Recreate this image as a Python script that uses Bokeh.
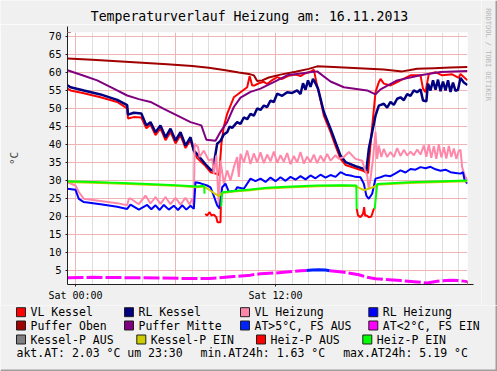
import math
from bokeh.plotting import figure
from bokeh.layouts import column, row
from bokeh.models import FixedTicker, Arrow, NormalHead, Range1d
from bokeh.core.properties import value
from bokeh.embed import file_html
from bokeh.resources import INLINE

NaN = float("nan")
FONT = "DejaVu Sans Mono"

# ---------------- texts / ticks ----------------
TITLE = "Temperaturverlauf Heizung am: 16.11.2013"
Y_LABEL = "°C"
WATERMARK = "RRDTOOL / TOBI OETIKER"
X_TICK_HOURS = [0, 12]
X_TICK_LABELS = ["Sat 00:00", "Sat 12:00"]
X_MAJOR_GRID = [0, 6, 12, 18]
X_MINOR_GRID = list(range(0, 24))
Y_TICKS = [5, 10, 15, 20, 25, 30, 35, 40, 45, 50, 55, 60, 65, 70]

# ---------------- data (hours of 16.11.2013, degC) ----------------
vk_t = [-0.48, -0.3, 0.5, 1.5, 2.5, 3.1, 3.15, 3.5, 3.95, 4.25, 4.5, 4.8, 5.1, 5.4, 5.7, 6.0, 6.3, 6.6, 6.9, 7.15,
        7.3, 7.8, 8.1, 8.5, 8.62, 8.75, 8.9, 9.1, 9.5, 9.9, 10.3, 10.45, 10.6, 10.75, 11.0, 11.3, 11.5, 11.8, 12.1,
        12.4, 12.8, 13.2, 13.5, 13.8, 14.1, 14.3, 14.45, 14.6, 14.9, 15.3, 15.6, 15.9, 16.2, 16.8, 17.3, 17.45,
        17.55, 17.75, 18.0, 18.2, 18.3, 18.5, 18.9, 19.3, 19.5, 20.1, 20.7, 20.85, 21.0, 21.2, 21.6, 22.0, 22.6,
        23.0, 23.1, 23.52]
vk_v = [55.5, 55.0, 54.2, 53.1, 51.8, 50.0, 47.2, 47.6, 47.5, 44.5, 45.5, 42.6, 44.5, 41.2, 43.5, 40.3, 42.6, 39.0,
        41.2, 37.5, 36.2, 34.0, 32.3, 31.8, 31.5, 40.0, 45.0, 48.5, 53.1, 54.5, 55.9, 59.0, 56.4, 56.4, 57.0, 57.4,
        56.8, 57.9, 58.7, 58.2, 59.1, 59.4, 59.0, 59.8, 60.2, 60.8, 57.3, 54.5, 48.0, 43.5, 39.6, 36.0, 34.3, 33.4,
        32.6, 32.2, 32.0, 42.5, 54.5, 57.3, 58.2, 56.9, 56.4, 57.3, 57.8, 59.2, 59.2, 55.5, 54.5, 59.6, 60.1, 59.2,
        59.5, 58.5, 59.6, 57.8]

rk_t = [-0.48, -0.3, 0.5, 1.5, 2.5, 3.1, 3.15, 3.5, 3.95, 4.25, 4.5, 4.8, 5.1, 5.4, 5.7, 6.0, 6.3, 6.6, 6.9, 7.1,
        7.3, 7.8, 8.1, 8.25, 8.35, 8.5, 8.7, 8.9, 9.1, 9.25, 9.4, 9.7, 9.9, 10.1, 10.3, 10.5, 10.7, 10.9, 11.1, 11.3,
        11.5, 11.7, 11.9, 12.1, 12.4, 12.7, 13.0, 13.3, 13.5, 13.65, 13.8, 13.95, 14.1, 14.25, 14.4, 14.55, 14.9,
        15.3, 15.6, 15.9, 16.2, 16.8, 17.3, 17.45, 17.6, 17.8, 18.0, 18.2, 18.5, 18.7, 18.9, 19.1, 19.3, 19.5, 19.7,
        19.9, 20.1, 20.3, 20.5, 20.7, 20.85, 21.05, 21.15, 21.3, 21.45, 21.6, 21.75, 21.9, 22.05, 22.2, 22.35, 22.5,
        22.65, 22.8, 22.95, 23.1, 23.3, 23.52]
rk_v = [56.4, 55.9, 55.0, 53.9, 52.4, 50.9, 48.3, 48.8, 48.6, 45.3, 46.2, 43.4, 45.3, 42.0, 44.4, 41.1, 43.4, 39.7,
        42.0, 38.3, 37.3, 34.5, 33.0, 32.7, 36.0, 40.2, 41.0, 42.8, 43.4, 45.0, 44.6, 46.2, 45.7, 47.5, 47.0, 48.5,
        48.0, 50.0, 49.6, 50.8, 50.4, 52.2, 51.8, 54.1, 53.5, 54.5, 54.3, 55.0, 54.0, 57.0, 55.2, 57.8, 56.0, 58.2,
        57.0, 55.5, 49.0, 44.4, 40.6, 36.9, 35.1, 34.0, 33.2, 32.7, 38.8, 43.4, 48.0, 50.8, 51.3, 50.2, 51.8, 51.0,
        52.7, 53.1, 52.3, 54.0, 53.5, 55.0, 54.5, 55.3, 52.2, 52.0, 56.9, 55.0, 57.8, 55.2, 58.0, 54.8, 57.5, 55.0,
        57.8, 54.6, 57.2, 54.9, 55.2, 58.5, 57.2, 56.5]

vh_t = [-0.48, 0.0, 0.2, 0.5, 1.5, 2.5, 3.1, 3.2, 3.3, 3.8, 4.2, 4.5, 4.8, 5.1, 5.4, 5.7, 6.0, 6.3, 6.6, 6.85, 7.0,
        7.1, 7.15, 7.35, 7.45, 7.7, 8.0, 8.2, 8.3, 8.45, 8.6, 8.7, 8.9, 9.1, 9.3, 9.5, 9.7, 9.8, 9.9, 10.1, 10.3,
        10.5, 10.7, 10.9, 11.1, 11.3, 11.5, 11.7, 11.9, 12.1, 12.3, 12.5, 12.7, 12.9, 13.1, 13.3, 13.5, 13.7, 13.9,
        14.1, 14.3, 14.5, 14.7, 14.9, 15.1, 15.3, 15.6, 15.8, 16.1, 16.4, 16.8, 17.2, 17.35, 17.5, 17.6, 17.7,
        17.85, 18.0, 18.1, 18.2, 18.35, 18.5, 18.7, 18.9, 19.1, 19.3, 19.5, 19.7, 19.9, 20.1, 20.3, 20.5, 20.7,
        20.9, 21.05, 21.2, 21.35, 21.5, 21.65, 21.8, 21.95, 22.1, 22.25, 22.4, 22.55, 22.7, 22.85, 23.0, 23.1,
        23.2, 23.35, 23.52]
vh_v = [29.5, 28.6, 26.8, 24.9, 24.3, 23.7, 23.1, 24.9, 25.0, 23.4, 25.8, 23.6, 25.4, 23.5, 25.4, 23.4, 25.2, 23.3,
        25.2, 23.3, 25.0, 23.0, 40.2, 39.3, 36.5, 38.3, 35.5, 36.0, 31.8, 37.0, 22.6, 35.5, 29.1, 32.8, 30.0, 33.7,
        36.5, 31.0, 37.4, 35.0, 38.3, 34.6, 37.5, 35.0, 37.8, 34.8, 37.2, 35.3, 38.0, 34.9, 37.0, 35.2, 37.6, 34.5,
        36.8, 35.0, 37.9, 34.7, 36.6, 35.1, 37.2, 34.8, 36.9, 35.3, 37.4, 35.5, 37.0, 36.0, 36.5, 37.9, 36.0, 35.5,
        33.2, 31.4, 27.5, 30.5, 36.0, 43.5, 36.0, 39.7, 36.5, 38.8, 36.5, 37.9, 36.5, 39.0, 36.8, 38.5, 36.9, 38.0,
        37.0, 38.6, 37.2, 39.7, 36.6, 40.0, 36.3, 39.5, 36.0, 40.1, 36.4, 39.2, 36.1, 39.6, 36.5, 38.9, 36.0, 38.3,
        38.5, 33.7, 31.4, 30.0]

rh_t = [-0.48, 0.0, 0.2, 0.5, 1.5, 2.5, 3.1, 3.3, 3.8, 4.3, 4.55, 4.8, 5.05, 5.3, 5.6, 5.9, 6.15, 6.4, 6.65, 6.9,
        7.1, 7.2, 7.5, 7.9, 8.1, 8.25, 8.5, 8.65, 8.8, 9.0, 9.2, 9.6, 9.7, 10.1, 10.5, 10.8, 11.1, 11.4, 11.7, 12.0,
        12.3, 12.6, 12.9, 13.2, 13.5, 13.8, 14.1, 14.4, 14.7, 15.0, 15.3, 15.6, 15.9, 16.2, 16.5, 16.8, 17.1, 17.3,
        17.45, 17.6, 17.8, 18.0, 18.3, 18.6, 18.9, 19.2, 19.5, 19.8, 20.1, 20.4, 20.7, 21.0, 21.3, 21.6, 21.9, 22.2,
        22.5, 22.8, 23.1, 23.25, 23.35, 23.52]
rh_v = [27.7, 27.4, 24.9, 24.0, 23.4, 22.7, 22.1, 23.3, 21.9, 23.2, 22.0, 23.1, 21.8, 23.2, 21.9, 23.0, 21.8, 23.1,
        21.9, 23.0, 22.1, 29.5, 29.2, 28.6, 28.1, 26.3, 23.1, 22.2, 28.1, 29.1, 26.8, 27.2, 28.1, 27.7, 30.5, 29.8,
        30.5, 29.6, 30.8, 29.8, 30.9, 29.9, 31.0, 30.2, 31.2, 30.3, 31.4, 30.6, 31.6, 30.8, 31.5, 31.0, 32.3, 31.6,
        31.4, 31.0, 30.9, 29.1, 25.8, 24.9, 26.3, 30.5, 30.9, 31.4, 31.2, 32.0, 32.8, 32.2, 33.2, 33.0, 33.7, 33.4,
        33.8, 33.1, 32.7, 33.0, 32.3, 32.1, 31.9, 32.3, 30.0, 29.1]

po_t = [-0.48, 1.0, 2.5, 4.0, 5.5, 7.0, 8.0, 9.0, 9.8, 10.4, 10.7, 10.9, 11.2, 11.6, 12.3, 13.2, 14.0, 14.5, 15.5,
        17.0, 18.5, 19.6, 20.0, 20.5, 21.5, 22.5, 23.52]
po_v = [63.9, 63.5, 63.1, 62.7, 62.3, 61.8, 61.3, 60.6, 60.0, 59.6, 59.2, 57.6, 57.8, 58.6, 59.4, 60.2, 61.0, 61.7,
        61.5, 61.2, 60.8, 60.3, 60.6, 61.0, 61.2, 61.4, 61.5]

pm_t = [-0.48, 0.5, 1.3, 2.2, 3.1, 3.8, 4.5, 5.3, 6.3, 6.9, 7.55, 7.85, 8.4, 8.7, 9.1, 9.5, 9.9, 10.5, 11.1, 12.1,
        12.7, 13.5, 14.5, 15.3, 16.1, 17.5, 18.0, 18.3, 19.3, 20.7, 21.9, 23.52]
pm_v = [60.6, 59.1, 57.8, 55.7, 53.6, 52.6, 51.8, 49.9, 47.6, 46.2, 45.3, 41.3, 41.0, 43.5, 46.2, 50.4, 53.0, 54.6,
        55.5, 57.8, 59.2, 59.7, 60.3, 57.5, 55.9, 55.0, 53.9, 55.3, 57.8, 59.2, 60.1, 60.4]

at_t = [-0.48, 1.0, 3.0, 5.0, 7.0, 8.0, 8.5, 9.5, 10.5, 11.1, 12.0, 12.5, 13.5, 13.85, 13.9, 15.2, 15.25, 16.0, 17.0,
        17.5, 18.0, 19.5, 20.5, 21.1, 21.7, 22.5, 23.0, 23.52]
at_v = [3.0, 3.1, 3.0, 2.9, 2.75, 2.8, 2.9, 3.3, 3.7, 4.1, 4.3, 4.5, 4.9, 5.0, NaN, NaN, 4.9, 4.6, 3.8, 3.1, 2.7,
        2.2, 1.8, 1.5, 2.0, 2.3, 2.2, 1.9]
at_hi_t = [13.85, 14.2, 14.6, 15.0, 15.25]
at_hi_v = [5.0, 5.15, 5.2, 5.1, 4.9]

kp_ein_t = [-0.48, 2.0, 4.0, 6.0, 7.3, 7.7, 8.0, 8.3, 8.6, 8.8, 9.5, 10.5, 11.5, 13.0, 14.5, 16.0, 16.8, 17.3, 17.9,
            18.1, 20.0, 22.0, 23.52]
kp_ein_v = [29.6, 29.2, 28.9, 28.5, 28.1, 28.3, 27.5, 26.5, 25.7, 26.5, 26.9, 27.3, 27.8, 28.1, 28.4, 28.5, 28.4,
            27.3, 28.2, 28.8, 29.3, 29.6, 29.8]

hp_ein_t = [-0.48, 2.0, 4.0, 6.0, 7.3, 7.72, 7.74, 7.76, 8.72, 8.74, 8.8, 9.5, 10.5, 11.5, 13.0, 14.5, 16.0, 16.85,
            16.87, 16.9, 17.94, 17.95, 18.1, 20.0, 22.0, 23.52]
hp_ein_v = [29.8, 29.4, 29.1, 28.7, 28.3, 28.5, 26.3, NaN, NaN, 22.8, 26.7, 27.1, 27.5, 28.0, 28.3, 28.6, 28.7,
            28.6, 22.1, NaN, NaN, 22.1, 29.0, 29.5, 29.8, 30.0]

hp_aus_t = [7.78, 7.9, 8.05, 8.15, 8.3, 8.45, 8.52, 8.7, 8.72, 8.73, 16.87, 16.95, 17.1, 17.25, 17.32, 17.37, 17.45,
            17.6, 17.75, 17.9, 17.95]
hp_aus_v = [20.7, 20.3, 21.2, 20.3, 20.5, 19.8, 18.4, 18.4, 22.8, NaN, 22.1, 20.3, 19.8, 20.7, 22.6, 20.3, 20.3,
            19.8, 20.0, 22.1, 22.1]

LEGEND_LABELS = ["VL Kessel", "RL Kessel", "VL Heizung", "RL Heizung",
                 "Puffer Oben", "Puffer Mitte", "AT>5°C, FS AUS", "AT<2°C, FS EIN",
                 "Kessel-P AUS", "Kessel-P EIN", "Heiz-P AUS", "Heiz-P EIN"]
LEGEND_COLORS = ["#ff0000", "#000080", "#ff88aa", "#0000ff",
                 "#a00000", "#800080", "#0022ff", "#ff00ff",
                 "#808080", "#cccc00", "#ff0000", "#00ff00"]
FOOTER = ["akt.AT: 2.03 °C um 23:30", "min.AT24h: 1.63 °C", "max.AT24h: 5.19 °C"]

for a, b in [(vk_t, vk_v), (rk_t, rk_v), (vh_t, vh_v), (rh_t, rh_v), (po_t, po_v), (pm_t, pm_v),
             (at_t, at_v), (at_hi_t, at_hi_v), (kp_ein_t, kp_ein_v), (hp_ein_t, hp_ein_v), (hp_aus_t, hp_aus_v)]:
    assert len(a) == len(b), (len(a), len(b))

# ---------------- layout geometry (px) ----------------
BG = "#f0f0f0"
SHADE = "#9e9e9e"
W_ALL, W_MAIN, W_WM = 497, 481, 16
H_TITLE, H_MAIN, H_LEG = 24, 281, 66


def strip(w, h):
    """A figure whose frame is the whole strip, 1 data unit = 1 px, y down."""
    f = figure(width=w, height=h, output_backend="svg", toolbar_location=None,
               x_range=Range1d(0, w), y_range=Range1d(h, 0),
               x_axis_type=None, y_axis_type=None,
               min_border_left=0, min_border_right=0, min_border_top=0, min_border_bottom=0,
               background_fill_color=BG, border_fill_color=BG)
    f.frame_align = False
    f.outline_line_color = None
    f.grid.visible = False
    f.title.visible = False
    return f


# ---------------- title strip ----------------
pt = strip(W_MAIN, H_TITLE)
pt.text(x=[249], y=[16], text=[TITLE], text_font=value(FONT), text_font_size=value("13.2px"),
        text_align="center", text_baseline="middle", text_color="#000000")

# ---------------- main chart ----------------
FL, FR, FT, FB = 67, 14, 8, 21
X0, X1, Y0, Y1 = -0.48, 23.52, 1.1, 71.1
p = figure(width=W_MAIN, height=H_MAIN, output_backend="svg", toolbar_location=None,
           x_range=Range1d(X0, X1), y_range=Range1d(Y0, Y1),
           min_border_left=FL, min_border_right=FR, min_border_top=FT, min_border_bottom=FB,
           background_fill_color="#ffffff", border_fill_color=BG)
p.frame_align = False
p.outline_line_color = None
p.title.visible = False

p.xgrid.ticker = FixedTicker(ticks=X_MAJOR_GRID, minor_ticks=X_MINOR_GRID)
p.xgrid.grid_line_color = "#f0b4b4"
p.xgrid.minor_grid_line_color = "#dedede"
p.ygrid.ticker = FixedTicker(ticks=Y_TICKS)
p.ygrid.grid_line_color = "#f0b4b4"

p.xaxis.ticker = FixedTicker(ticks=X_TICK_HOURS)
p.xaxis.major_label_overrides = {h: s for h, s in zip(X_TICK_HOURS, X_TICK_LABELS)}
p.yaxis.ticker = FixedTicker(ticks=Y_TICKS)
for ax in (p.xaxis[0], p.yaxis[0]):
    ax.axis_line_color = "#202020"
    ax.major_tick_line_color = "#202020"
    ax.major_tick_in = 0
    ax.major_tick_out = 2
    ax.minor_tick_line_color = None
    ax.major_label_text_font = FONT
    ax.major_label_text_color = "#000000"
p.xaxis.major_label_text_font_size = "10px"
p.yaxis.major_label_text_font_size = "10.5px"
p.yaxis.major_label_standoff = 4
p.xaxis.major_label_standoff = 3
p.yaxis.axis_label = Y_LABEL
p.yaxis.axis_label_text_font = FONT
p.yaxis.axis_label_text_font_size = "11px"
p.yaxis.axis_label_text_font_style = "normal"
p.yaxis.axis_label_standoff = 25

p.line(vk_t, vk_v, line_color=LEGEND_COLORS[0], line_width=2)
p.line(rk_t, rk_v, line_color=LEGEND_COLORS[1], line_width=2.5)
p.line(vh_t, vh_v, line_color=LEGEND_COLORS[2], line_width=2)
p.line(rh_t, rh_v, line_color=LEGEND_COLORS[3], line_width=2)
p.line(po_t, po_v, line_color=LEGEND_COLORS[4], line_width=2)
p.line(pm_t, pm_v, line_color=LEGEND_COLORS[5], line_width=2)
p.line(at_hi_t, at_hi_v, line_color=LEGEND_COLORS[6], line_width=3)
p.line(at_t, at_v, line_color=LEGEND_COLORS[7], line_width=3, line_dash="16 3")
p.line(kp_ein_t, kp_ein_v, line_color=LEGEND_COLORS[9], line_width=2)
p.line(hp_aus_t, hp_aus_v, line_color=LEGEND_COLORS[10], line_width=2)
p.line(hp_ein_t, hp_ein_v, line_color=LEGEND_COLORS[11], line_width=2)

px_x = (X1 - X0) / (W_MAIN - FL - FR)
px_y = (Y1 - Y0) / (H_MAIN - FT - FB)
p.add_layout(Arrow(end=NormalHead(size=6, fill_color="#902020", line_color="#902020"),
                   x_start=X1, y_start=Y0, x_end=X1 + 6 * px_x, y_end=Y0, line_color="#202020", line_width=1))
p.add_layout(Arrow(end=NormalHead(size=6, fill_color="#902020", line_color="#902020"),
                   x_start=X0, y_start=Y1, x_end=X0, y_end=Y1 + 6 * px_y, line_color="#202020", line_width=1))

# ---------------- watermark strip (right edge) ----------------
pw = strip(W_WM, H_TITLE + H_MAIN)
pw.rect(x=[15], y=[(H_TITLE + H_MAIN) / 2], width=2, height=H_TITLE + H_MAIN, fill_color=SHADE, line_color=None)
pw.text(x=[6], y=[54], text=[WATERMARK], angle=-math.pi / 2, text_font=value(FONT), text_font_size=value("7px"),
        text_align="center", text_baseline="middle", text_color="#b8b8b8")

# ---------------- legend strip ----------------
pl = strip(W_ALL, H_LEG)
pl.rect(x=[W_ALL / 2], y=[H_LEG - 1], width=W_ALL, height=2, fill_color=SHADE, line_color=None)
pl.rect(x=[W_ALL - 1], y=[H_LEG / 2], width=2, height=H_LEG, fill_color=SHADE, line_color=None)
row_y = [6.7, 20.0, 34.0]
box_x = [[16, 124, 240, 368.3], [16, 124, 240, 368.3], [16, 136.3, 256, 362.3]]
bxs, bys, txs = [], [], []
for r in range(3):
    for c in range(4):
        bxs.append(box_x[r][c] + 4.5)
        bys.append(row_y[r])
        txs.append(box_x[r][c] + 14)
pl.rect(x=bxs, y=bys, width=9, height=9, fill_color=LEGEND_COLORS, line_color="#202020", line_width=1)
pl.text(x=txs, y=bys, text=LEGEND_LABELS, text_font=value(FONT), text_font_size=value("11.5px"),
        text_align="left", text_baseline="middle", text_color="#000000")
pl.text(x=[16, 200, 342.7], y=[47.7] * 3, text=FOOTER, text_font=value(FONT), text_font_size=value("11.5px"),
        text_align="left", text_baseline="middle", text_color="#000000")

layout = column(row(column(pt, p, spacing=0), pw, spacing=0), pl, spacing=0)
open("out.html", "w").write(file_html(layout, INLINE))
